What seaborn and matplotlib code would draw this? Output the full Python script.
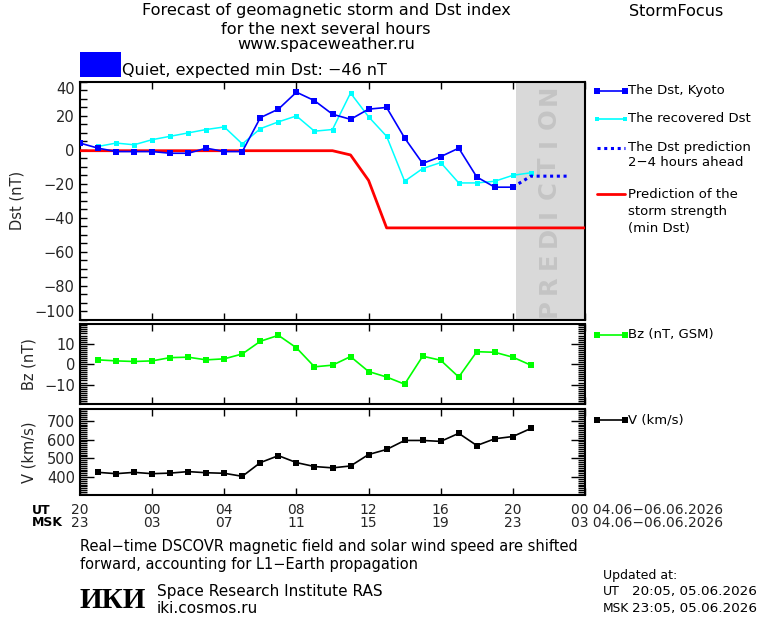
import numpy as np
import pandas as pd
import matplotlib
matplotlib.use("Agg")
import matplotlib.pyplot as plt
import matplotlib.transforms as mtransforms
from matplotlib.lines import Line2D
from matplotlib.patches import Rectangle
from matplotlib.ticker import MultipleLocator, FixedLocator
import seaborn as sns

# ---------------- data (hours counted from 20 UT, 04.06) ----------------
ut_ticks = [0, 4, 8, 12, 16, 20, 24, 28]
ut_labels = ["20", "00", "04", "08", "12", "16", "20", "00"]
msk_labels = ["23", "03", "07", "11", "15", "19", "23", "03"]
date_label = "04.06\u221206.06.2026"

dst_hours = list(range(0, 25))
dst_kyoto = [4, 1, -1, -1, -1, -2, -2, 1, -1, -1, 19, 24, 34, 29, 21, 18,
             24, 25, 7, -8, -4, 1, -16, -22, -22]

rec_hours = list(range(1, 26))
dst_recovered = [2, 4, 3, 6, 8, 10, 12, 13.5, 3.5, 12.5, 16.5, 20, 11, 12,
                 33.5, 19.5, 8, -18.5, -11, -7.5, -19.5, -19.5, -18.5, -15, -13.5]

pred_hours = [24, 25, 26, 27]
dst_pred = [-22, -15.5, -15.5, -15.5]

storm_hours = list(range(0, 29))
storm_min = [-0.5, -0.5, -0.5, -0.5, -0.5, -0.5, -0.5, -0.5, -0.5, -0.5,
             -0.5, -0.5, -0.5, -0.5, -0.5, -3, -18, -46, -46,
             -46, -46, -46, -46, -46, -46, -46, -46, -46, -46]

bz_hours = list(range(1, 26))
bz = [2.1, 1.6, 1.3, 1.6, 3.2, 3.4, 2.1, 2.6, 5.0, 11.2, 14.1, 8.0, -1.3,
      -0.5, 3.7, -3.6, -6.3, -9.8, 3.9, 1.9, -6.3, 6.1, 5.8, 3.4, -0.5]

v_hours = list(range(1, 26))
v_speed = [425, 418, 425, 418, 421, 429, 423, 420, 404, 477, 514, 477, 456,
           449, 459, 520, 547, 595, 595, 590, 633, 568, 604, 616, 659]

prediction_start = 24.17
expected_min_dst = -46

# ---------------- style ----------------
sns.set_theme(style="white")
plt.rcParams["font.family"] = ["DejaVu Sans"]
plt.rcParams["axes.linewidth"] = 1.5
plt.rcParams["axes.edgecolor"] = "black"

W, H = 760, 620
fig = plt.figure(figsize=(W / 100, H / 100), dpi=100)
fig.patch.set_facecolor("white")


def rect(x0, y0, x1, y1):
    return [x0 / W, 1 - y1 / H, (x1 - x0) / W, (y1 - y0) / H]


def ftxt(x, y, s, **kw):
    kw.setdefault("va", "center")
    kw.setdefault("ha", "left")
    kw.setdefault("color", "black")
    return fig.text(x / W, 1 - y / H, s, **kw)


BLUE = "#0000ff"
CYAN = "#00ffff"
RED = "#ff0000"
GREEN = "#00ff00"
TICKFS = 10.5

ax1 = fig.add_axes(rect(80, 82, 585, 319.5))
ax2 = fig.add_axes(rect(80, 324.3, 585, 404))
ax3 = fig.add_axes(rect(80, 409.3, 585, 494.5))

for ax in (ax1, ax2, ax3):
    ax.set_xlim(0, 28)
    ax.set_facecolor("white")
    for sp in ax.spines.values():
        sp.set_linewidth(1.5)
        sp.set_color("black")
    ax.xaxis.set_major_locator(FixedLocator(ut_ticks))
    ax.tick_params(axis="x", which="major", direction="in", length=5, width=1,
                   top=True, bottom=True, labelbottom=False, color="black")
    ax.set_xlabel("")

# ---------------- Dst panel ----------------
ax1.set_ylim(-100, 40)
ax1.axvspan(prediction_start, 28, color="#d9d9d9", zorder=0, lw=0)
letters = "PREDICTION"
tr = mtransforms.blended_transform_factory(ax1.transData, ax1.transAxes)
for i, ch in enumerate(letters):
    ax1.text(26.0, 0.048 + i * 0.0997, ch, transform=tr, rotation=90,
             ha="center", va="center", fontsize=17.5, fontweight="bold",
             color="#c4c4c4", zorder=1)

sns.lineplot(x=storm_hours, y=storm_min, ax=ax1, color=RED, lw=2.0, zorder=3)
sns.lineplot(x=rec_hours, y=dst_recovered, ax=ax1, color=CYAN, lw=1.1,
             marker="s", markersize=3.6, markeredgewidth=0, zorder=4)
sns.lineplot(x=pred_hours, y=dst_pred, ax=ax1, color=BLUE, lw=2.2,
             linestyle=(0, (1, 1.2)), zorder=5)
sns.lineplot(x=dst_hours, y=dst_kyoto, ax=ax1, color=BLUE, lw=1.2,
             marker="s", markersize=5, markeredgewidth=0, zorder=6)

ax1.set_yticks([-100, -80, -60, -40, -20, 0, 20, 40])
ylbl = ax1.set_yticklabels(["\u2212100", "\u221280", "\u221260", "\u221240",
                            "\u221220", "0", "20", "40"], fontsize=TICKFS)
ylbl[0].set_va("bottom")
ylbl[-1].set_va("top")
ax1.yaxis.set_minor_locator(MultipleLocator(5))
ax1.tick_params(axis="y", which="both", direction="in", left=True, right=False,
                length=5, width=1, pad=4, color="black")
ax1.set_ylabel("Dst (nT)", fontsize=10.5)

# ---------------- Bz panel ----------------
sns.lineplot(x=bz_hours, y=bz, ax=ax2, color=GREEN, lw=1.2, marker="s",
             markersize=4, markeredgewidth=0)
ax2.set_ylim(-19.5, 19.5)
ax2.set_yticks([-10, 0, 10])
ax2.set_yticklabels(["\u221210", "0", "10"], fontsize=TICKFS)
ax2.yaxis.set_minor_locator(MultipleLocator(1))
ax2.tick_params(axis="y", which="major", direction="in", left=True, right=True,
                length=10, width=1, color="black")
ax2.tick_params(axis="y", which="minor", direction="in", left=True, right=True,
                length=5, width=1, color="black")
ax2.set_ylabel("Bz (nT)", fontsize=10.5)

# ---------------- V panel ----------------
sns.lineplot(x=v_hours, y=v_speed, ax=ax3, color="black", lw=1.2, marker="s",
             markersize=4, markeredgewidth=0)
ax3.set_ylim(307, 761)
ax3.set_yticks([400, 500, 600, 700])
ax3.set_yticklabels(["400", "500", "600", "700"], fontsize=TICKFS)
ax3.yaxis.set_minor_locator(MultipleLocator(10))
ax3.tick_params(axis="y", which="major", direction="in", left=True, right=True,
                length=10, width=1, color="black")
ax3.tick_params(axis="y", which="minor", direction="in", left=True, right=True,
                length=5, width=1, color="black")
ax3.set_ylabel("V (km/s)", fontsize=10.5)

ax1.yaxis.set_label_coords(-0.109, 0.5)
ax2.yaxis.set_label_coords(-0.087, 0.5)
ax3.yaxis.set_label_coords(-0.087, 0.5)

# ---------------- time labels under the V panel ----------------
trx = mtransforms.blended_transform_factory(ax3.transData, fig.transFigure)
for i, (t, u, m) in enumerate(zip(ut_ticks, ut_labels, msk_labels)):
    if i == len(ut_ticks) - 1:
        ax3.text(t - 0.78, 1 - 510 / H, u + " " + date_label, transform=trx,
                 ha="left", va="center", fontsize=10, clip_on=False)
        ax3.text(t - 0.78, 1 - 523 / H, m + " " + date_label, transform=trx,
                 ha="left", va="center", fontsize=10, clip_on=False)
    else:
        ax3.text(t, 1 - 510 / H, u, transform=trx, ha="center", va="center",
                 fontsize=10, clip_on=False)
        ax3.text(t, 1 - 523 / H, m, transform=trx, ha="center", va="center",
                 fontsize=10, clip_on=False)
ftxt(32, 510, "UT", fontsize=9, fontweight="bold")
ftxt(32, 523, "MSK", fontsize=9, fontweight="bold")

# ---------------- titles ----------------
TFS = 11.6
ftxt(326, 11, "Forecast of geomagnetic storm and Dst index", ha="center", fontsize=TFS)
ftxt(326, 29, "for the next several hours", ha="center", fontsize=TFS)
ftxt(326, 45, "www.spaceweather.ru", ha="center", fontsize=TFS)
ftxt(629, 11, "StormFocus", fontsize=TFS)
fig.patches.append(Rectangle((80 / W, 1 - 77 / H), 41 / W, 25 / H,
                             transform=fig.transFigure, facecolor=BLUE,
                             edgecolor="none"))
ftxt(122, 71, "Quiet, expected min Dst: \u2212%d nT" % abs(expected_min_dst),
     fontsize=11.5)

# ---------------- legend ----------------
LFS = 9.5


def leg_line(y, color, lw=1.2, ls="-", marker=None, ms=0, x0=597, x1=625):
    ln = Line2D([x0 / W, x1 / W], [1 - y / H, 1 - y / H], transform=fig.transFigure,
                color=color, lw=lw, linestyle=ls, marker=marker, markersize=ms,
                markeredgewidth=0)
    fig.add_artist(ln)


leg_line(90.7, BLUE, lw=1.2, marker="s", ms=4.5)
ftxt(628, 90.7, "The Dst, Kyoto", fontsize=LFS)
leg_line(119, CYAN, lw=1.2, marker="s", ms=3.4)
ftxt(628, 119, "The recovered Dst", fontsize=LFS)
leg_line(147.7, BLUE, lw=2.2, ls=(0, (1, 1.2)))
ftxt(628, 147.7, "The Dst prediction", fontsize=LFS)
ftxt(628, 162.3, "2\u22124 hours ahead", fontsize=LFS)
leg_line(194, RED, lw=2.0)
ftxt(628, 194, "Prediction of the", fontsize=LFS)
ftxt(628, 211.7, "storm strength", fontsize=LFS)
ftxt(628, 228.3, "(min Dst)", fontsize=LFS)

leg_line(334.7, GREEN, lw=1.2, marker="s", ms=4)
ftxt(628, 334.7, "Bz (nT, GSM)", fontsize=LFS)
leg_line(420, "black", lw=1.2, marker="s", ms=4)
ftxt(628, 420, "V (km/s)", fontsize=LFS)

# ---------------- bottom notes ----------------
BFS = 10.5
ftxt(80, 546, "Real\u2212time DSCOVR magnetic field and solar wind speed are shifted",
     fontsize=BFS)
ftxt(80, 564.3, "forward, accounting for L1\u2212Earth propagation", fontsize=BFS)
ftxt(80, 600, "\u0418\u041a\u0418", fontsize=21, fontweight="bold",
     family="Liberation Serif")
ftxt(157, 591.7, "Space Research Institute RAS", fontsize=11)
ftxt(157, 608.3, "iki.cosmos.ru", fontsize=11)
ftxt(603, 575, "Updated at:", fontsize=9)
ftxt(603, 591.7, "UT", fontsize=9)
ftxt(757, 591.7, "20:05, 05.06.2026", fontsize=9.7, ha="right")
ftxt(603, 608.3, "MSK", fontsize=8.8)
ftxt(757, 608.3, "23:05, 05.06.2026", fontsize=9.7, ha="right")

fig.savefig("out.png", dpi=100, facecolor="white")
